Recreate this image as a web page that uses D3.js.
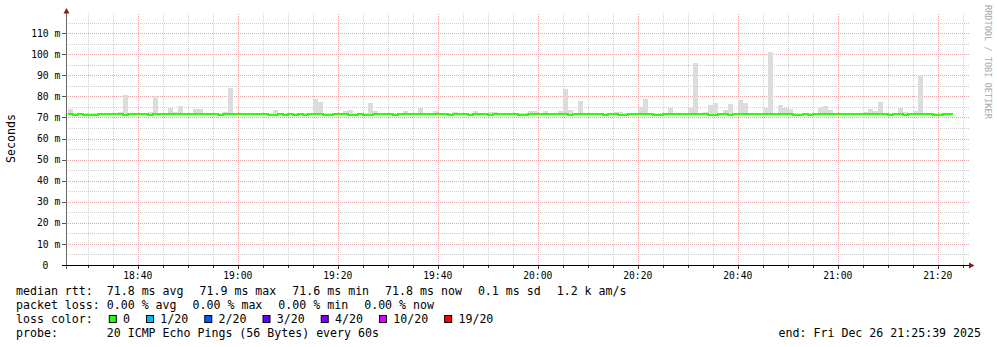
<!DOCTYPE html>
<html>
<head>
<meta charset="utf-8">
<style>
    body { margin: 0; background: #ffffff; }
    svg text { font-family: "DejaVu Sans Mono", monospace; white-space: pre; fill: #000; }
    .tick-label { font-size: 9.7px; }
    .legend { font-size: 11.6px; }
</style>
</head>
<body>
<svg width="997" height="347"></svg>

<script src="https://d3js.org/d3.v7.min.js"></script>
<script>
    // one sample per minute, first one at 18:26 (Fri Dec 26 2025)
    let firstSample = new Date(2025, 11, 26, 18, 26, 0)
    let graphStart = new Date(2025, 11, 26, 18, 25, 39)
    let graphEnd = new Date(2025, 11, 26, 21, 25, 39)

    // top of the smoke (slowest ping) per minute, ms
    let smokeTop = [
        74, 72.2, 72.2, 72.2, 72.2, 72.2, 72.2, 72.2, 72.2, 72.2,
        72.7, 80.6, 72.2, 72.2, 72.2, 72.2, 72.7, 80.1, 72.2, 72.2,
        74.4, 72.7, 75.4, 72.2, 72.2, 74, 74, 72.2, 72.2, 72.2,
        72.2, 72.7, 83.9, 72.2, 72.2, 72.2, 72.2, 72.2, 72.2, 72.2,
        72.2, 73.5, 72.2, 72.2, 72.2, 72.2, 72.2, 72.2, 72.2, 78.7,
        77.3, 72.2, 72.2, 72.2, 72.2, 73, 73.5, 72.2, 72.2, 72.2,
        76.8, 73, 72.2, 72.2, 72.2, 72.2, 72.2, 73, 72.2, 72.2,
        74.4, 72.2, 72.2, 73, 72.2, 72.2, 72.2, 72.7, 72.2, 72.2,
        72.2, 73, 72.2, 72.2, 72.7, 72.7, 72.2, 72.2, 72.2, 72.2,
        72.2, 72.2, 73, 73, 72.2, 73, 72.2, 72.2, 73, 83.4,
        73.5, 72.2, 77.8, 72.2, 72.2, 72.2, 72.2, 72.2, 72.2, 72.7,
        72.7, 72.2, 72.2, 72.2, 74.9, 78.7, 72.2, 72.2, 72.2, 72.2,
        74.4, 72.2, 72.2, 72.2, 74.4, 96, 72.2, 72.7, 75.9, 76.8,
        72.2, 73.5, 76.3, 72.2, 78.2, 76.8, 72.2, 72.2, 72.2, 74.4,
        101, 72.2, 75.9, 74.4, 74, 72.2, 72.2, 72.2, 72.2, 72.2,
        74.9, 75.4, 73.5, 72.2, 72.2, 72.2, 72.2, 72.2, 72.2, 72.7,
        74, 73, 77.3, 72.2, 72.2, 72.2, 74.4, 72.7, 72.2, 73,
        90, 72.2, 72.2, 72.2, 72.2, 72.2, 72.2
    ]
    let smokeFloor = 71.0

    // median rtt per minute, ms
    let median = [
        71.6, 71.1, 71.6, 71.1, 71.1, 71.1, 71.6, 71.6, 71.6, 71.6,
        71.6, 71.1, 71.6, 71.6, 71.6, 71.6, 71.1, 71.6, 71.6, 71.6,
        71.6, 71.6, 71.6, 71.6, 71.6, 71.6, 71.6, 71.6, 71.6, 71.6,
        71.1, 71.6, 71.6, 71.6, 71.6, 71.6, 71.6, 71.6, 71.6, 71.6,
        71.1, 71.1, 71.6, 71.1, 71.6, 71.1, 71.6, 71.1, 71.6, 71.6,
        71.6, 71.1, 71.1, 71.6, 71.6, 71.6, 71.1, 71.1, 71.6, 71.1,
        71.1, 71.6, 71.6, 71.6, 71.6, 71.1, 71.6, 71.6, 71.6, 71.6,
        71.6, 71.6, 71.6, 71.6, 71.6, 71.6, 71.1, 71.6, 71.6, 71.6,
        71.1, 71.6, 71.6, 71.6, 71.1, 71.6, 71.6, 71.6, 71.6, 71.6,
        71.1, 71.1, 71.6, 71.6, 71.6, 71.6, 71.6, 71.6, 71.6, 71.6,
        71.1, 71.6, 71.6, 71.6, 71.6, 71.6, 71.6, 71.1, 71.6, 71.6,
        71.1, 71.1, 71.6, 71.6, 71.6, 71.6, 71.6, 71.1, 71.1, 71.6,
        71.6, 71.6, 71.6, 71.6, 71.6, 71.6, 71.6, 71.6, 71.1, 71.1,
        71.6, 71.6, 71.1, 71.6, 71.6, 71.6, 71.6, 71.6, 71.6, 71.6,
        71.6, 71.6, 71.6, 71.6, 71.6, 71.1, 71.1, 71.6, 71.1, 71.6,
        71.6, 71.6, 71.6, 71.6, 71.6, 71.6, 71.6, 71.6, 71.6, 71.6,
        71.6, 71.6, 71.6, 71.6, 71.1, 71.6, 71.6, 71.1, 71.6, 71.6,
        71.6, 71.6, 71.6, 71.1, 71.1, 71.6, 71.6
    ]

    let rttItems = ["median rtt:  71.8 ms avg", "71.9 ms max", "71.6 ms min", "71.8 ms now", "0.1 ms sd", "1.2 k am/s"]
    let lossItems = ["packet loss: 0.00 % avg", "0.00 % max", "0.00 % min", "0.00 % now"]
    let lossLabels = ["0", "1/20", "2/20", "3/20", "4/20", "10/20", "19/20"]
    let lossColors = ["#26ff00", "#00b8ff", "#0059ff", "#5e00ff", "#7e00ff", "#dd00ff", "#ff0000"]
    let probeText = "probe:       20 ICMP Echo Pings (56 Bytes) every 60s"
    let endText = "end: Fri Dec 26 21:25:39 2025"

    let samples = smokeTop.map(function (top, i) {
        return {
            t: d3.timeMinute.offset(firstSample, i),
            top: top,
            med: median[i]
        }
    })

    let svg = d3.select("svg")

    let x = d3.scaleTime()
        .domain([graphStart, graphEnd])
        .range([66, 966])

    let y = d3.scaleLinear()
        .domain([0, 120])
        .range([265, 12])

    // grid, minor first then major
    let grid = svg.append("g").attr("shape-rendering", "crispEdges")
    let minorX = x.ticks(d3.timeMinute.every(5))
    let majorX = x.ticks(d3.timeMinute.every(20))
    let isMajorX = d => majorX.some(m => +m === +d)

    grid.selectAll(".vminor")
        .data(minorX.filter(d => !isMajorX(d)))
        .join("line")
        .attr("x1", d => Math.round(x(d)) + 0.5)
        .attr("x2", d => Math.round(x(d)) + 0.5)
        .attr("y1", 265)
        .attr("y2", 13)
        .style("stroke", "#cfcfcf")
        .style("stroke-dasharray", "1,1")

    let minorY = y.ticks(24).filter(v => v > 0 && v < 120 && v % 10 !== 0)
    let majorY = y.ticks(12).filter(v => v > 0 && v < 120)

    grid.selectAll(".hminor")
        .data(minorY)
        .join("line")
        .attr("x1", 66)
        .attr("x2", 969)
        .attr("y1", d => Math.round(y(d)) + 0.5)
        .attr("y2", d => Math.round(y(d)) + 0.5)
        .style("stroke", "#cfcfcf")
        .style("stroke-dasharray", "1,1")

    grid.selectAll(".vmajor")
        .data(majorX)
        .join("line")
        .attr("x1", d => Math.round(x(d)) + 0.5)
        .attr("x2", d => Math.round(x(d)) + 0.5)
        .attr("y1", 265)
        .attr("y2", 13)
        .style("stroke", "#e8a4a4")
        .style("stroke-dasharray", "1,1")

    grid.selectAll(".hmajor")
        .data(majorY)
        .join("line")
        .attr("x1", 66)
        .attr("x2", 969)
        .attr("y1", d => Math.round(y(d)) + 0.5)
        .attr("y2", d => Math.round(y(d)) + 0.5)
        .style("stroke", "#e8a4a4")
        .style("stroke-dasharray", "1,1")

    // smoke
    svg.append("g")
        .attr("shape-rendering", "crispEdges")
        .selectAll("rect")
        .data(samples)
        .join("rect")
        .attr("x", d => x(d.t))
        .attr("width", d => x(d3.timeMinute.offset(d.t, 1)) - x(d.t))
        .attr("y", d => y(d.top))
        .attr("height", d => y(smokeFloor) - y(d.top))
        .style("fill", "#dcdcdc")

    // median line, stepped
    let medPts = samples.concat([{ t: d3.timeMinute.offset(samples[samples.length - 1].t, 1), med: samples[samples.length - 1].med }])
    let medLine = d3.line()
        .x(d => x(d.t))
        .y(d => y(d.med))
        .curve(d3.curveStepAfter)

    svg.append("path")
        .datum(medPts)
        .attr("d", medLine)
        .attr("shape-rendering", "crispEdges")
        .style("fill", "none")
        .style("stroke", lossColors[0])
        .style("stroke-width", 2)

    // axes
    let axes = svg.append("g").attr("shape-rendering", "crispEdges")

    axes.selectAll(".xtick")
        .data(minorX)
        .join("line")
        .attr("x1", d => Math.round(x(d)) + 0.5)
        .attr("x2", d => Math.round(x(d)) + 0.5)
        .attr("y1", 265)
        .attr("y2", d => isMajorX(d) ? 269 : 268)
        .style("stroke", "#333")

    axes.selectAll(".ytick")
        .data(y.ticks(12).filter(v => v < 120))
        .join("line")
        .attr("x1", 62)
        .attr("x2", 66)
        .attr("y1", d => Math.round(y(d)) + 0.5)
        .attr("y2", d => Math.round(y(d)) + 0.5)
        .style("stroke", "#555")

    axes.append("line")
        .attr("x1", 66.5).attr("x2", 66.5)
        .attr("y1", 269).attr("y2", 12)
        .style("stroke", "#666")

    axes.append("line")
        .attr("x1", 62).attr("x2", 970)
        .attr("y1", 265.5).attr("y2", 265.5)
        .style("stroke", "#000")

    svg.append("path")
        .attr("d", "M66.5,8L63.5,13.5L69.5,13.5Z")
        .style("fill", "#8b1a1a")
    svg.append("path")
        .attr("d", "M974.5,265.5L969,262.5L969,268.5Z")
        .style("fill", "#8b1a1a")

    // tick labels
    svg.selectAll(".xlab")
        .data(majorX)
        .join("text")
        .attr("class", "tick-label")
        .attr("x", d => x(d))
        .attr("y", 278.5)
        .attr("text-anchor", "middle")
        .text(d3.timeFormat("%H:%M"))

    svg.selectAll(".ylab")
        .data(y.ticks(12).filter(v => v < 120))
        .join("text")
        .attr("class", "tick-label")
        .attr("x", d => d === 0 ? 48.3 : 60.3)
        .attr("y", d => y(d) + 3.6)
        .attr("text-anchor", "end")
        .text(d => d === 0 ? "0" : d + " m")

    svg.append("text")
        .attr("class", "legend")
        .attr("transform", "translate(15,138.5) rotate(-90)")
        .attr("text-anchor", "middle")
        .text("Seconds")

    svg.append("text")
        .attr("transform", "translate(984.5,5) rotate(90)")
        .style("font-size", "8.6px")
        .style("fill", "#a8a8a8")
        .text("RRDTOOL / TOBI OETIKER")

    // legend: items spaced like rrdtool (16px gap)
    let gap = 16
    function legendRow(items, baseline) {
        let cx = 16
        items.forEach(function (s) {
            let t = svg.append("text")
                .attr("class", "legend")
                .attr("x", cx)
                .attr("y", baseline)
                .text(s)
            cx += t.node().getComputedTextLength() + gap
        })
    }
    legendRow(rttItems, 295)
    legendRow(lossItems, 309)

    let lc = svg.append("text")
        .attr("class", "legend")
        .attr("x", 16)
        .attr("y", 323)
        .text("loss color:")
    let cx = 16 + lc.node().getComputedTextLength() + gap
    lossLabels.forEach(function (lab, i) {
        svg.append("rect")
            .attr("x", cx + 0.5)
            .attr("y", 315.5)
            .attr("width", 7)
            .attr("height", 7)
            .style("fill", lossColors[i])
            .style("stroke", "#000")
        let t = svg.append("text")
            .attr("class", "legend")
            .attr("x", cx + 14.3)
            .attr("y", 323)
            .text(lab)
        cx += 14.3 + t.node().getComputedTextLength() + gap
    })

    svg.append("text")
        .attr("class", "legend")
        .attr("x", 16)
        .attr("y", 337)
        .text(probeText)

    svg.append("text")
        .attr("class", "legend")
        .attr("x", 981)
        .attr("y", 337)
        .attr("text-anchor", "end")
        .text(endText)
</script>
</body>
</html>
